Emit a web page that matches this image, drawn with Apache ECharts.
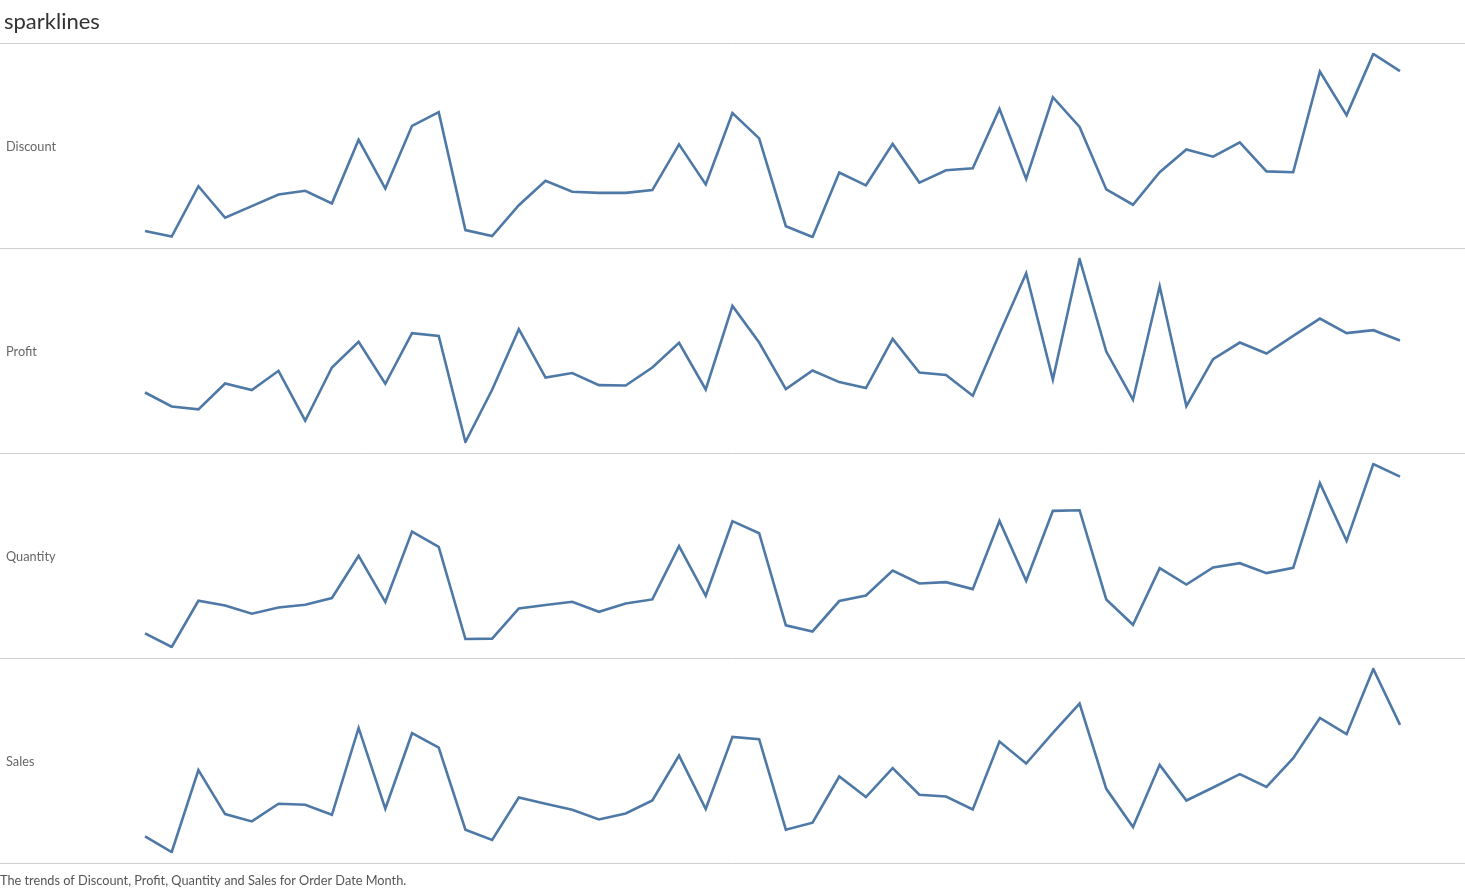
<!DOCTYPE html>
<html>
<head>
<meta charset="utf-8">
<script src="https://cdn.jsdelivr.net/npm/echarts@6/dist/echarts.min.js"></script>
<style>html,body{margin:0;padding:0;background:#fff;}#chart{width:1465px;height:889px;}</style>
</head>
<body>
<div id="chart"></div>
<script>
// 48 months of Order Date
const months = [];
for (let y = 2014; y <= 2017; y++) for (let m = 1; m <= 12; m++) months.push(y + '-' + String(m).padStart(2, '0'));

const measureNames = ['Discount', 'Profit', 'Quantity', 'Sales'];

const discount = [12.6,10.2,32.2,18.4,23.5,28.6,30.2,24.7,52.5,31.2,58.6,64.6,
  13.0,10.4,23.9,34.6,29.8,29.3,29.3,30.5,50.5,33.0,64.2,53.1,
  14.7,10.0,38.2,32.6,50.7,33.8,39.2,40.0,66.0,35.4,71.1,58.1,
  30.8,24.1,38.3,48.3,45.1,51.4,38.7,38.3,82.3,63.3,90.0,82.5];

const profit = [2680,1080,740,3710,2960,5170,-560,5550,8490,3680,9490,9180,
  -3000,2990,9950,4400,4910,3530,3480,5550,8380,3030,12620,8410,
  3070,5200,3870,3190,8840,4970,4680,2300,9410,16360,4170,18000,
  7380,1850,14870,1120,6510,8410,7150,9180,11160,9490,9830,8640];

const quantity = [319,200,604,563,491,546,569,628,997,593,1209,1076,
  270,273,537,567,595,508,581,616,1082,648,1300,1195,
  389,336,602,650,869,755,767,706,1302,779,1390,1396,
  616,395,890,746,895,933,846,892,1632,1128,1800,1689];

const sales = [13700,4000,55000,27630,23030,34040,33420,27200,81300,30930,78010,69050,
  17870,11460,37960,34040,30310,24270,28010,36090,64080,30740,75710,74270,
  17870,22220,51020,38200,56240,39640,38580,30490,72780,59100,78190,96420,
  43370,19550,58290,36090,44180,52510,44610,62460,87520,77380,118000,83170];

const seriesData = [discount, profit, quantity, sales];

const chart = echarts.init(document.getElementById('chart'), null, {renderer: 'canvas'});

const panelTop = 43, panelH = 205, pad = 11;
const fontFam = 'Lato, "Open Sans", sans-serif';
const grids = [], xAxes = [], yAxes = [], series = [], graphics = [];

measureNames.forEach((name, i) => {
  const top = panelTop + i * panelH;
  grids.push({left: 145, right: 65, top: top + pad, height: panelH - 2 * pad, containLabel: false});
  xAxes.push({type: 'category', gridIndex: i, data: months, boundaryGap: false, show: false});
  yAxes.push({type: 'value', gridIndex: i, min: 'dataMin', max: 'dataMax', show: false, scale: true});
  series.push({
    type: 'line', name: name, xAxisIndex: i, yAxisIndex: i, data: seriesData[i],
    showSymbol: false, symbol: 'none', smooth: false,
    lineStyle: {color: '#4e79a7', width: 2.6, join: 'miter'}, animation: false
  });
  graphics.push({
    type: 'text', left: 6, top: top + panelH / 2 - 5,
    style: {text: name, fontSize: 12.75, fontFamily: fontFam, fill: '#666666'}
  });
});

for (let k = 0; k <= 4; k++) {
  const y = panelTop + k * panelH + 0.5;
  graphics.push({type: 'line', shape: {x1: 0, y1: y, x2: 1465, y2: y}, style: {stroke: '#cfcfcf', lineWidth: 1}, z: -1});
}

graphics.push({
  type: 'text', left: 4, top: 11,
  style: {text: 'sparklines', fontSize: 22, fontFamily: fontFam, fill: '#333333'}
});
graphics.push({
  type: 'text', left: 0, top: 874,
  style: {text: 'The trends of Discount, Profit, Quantity and Sales for Order Date Month.', fontSize: 12.75, fontFamily: fontFam, fill: '#555555'}
});

chart.setOption({
  animation: false,
  backgroundColor: '#ffffff',
  grid: grids, xAxis: xAxes, yAxis: yAxes, series: series,
  graphic: graphics,
  tooltip: {show: false}
});
</script>
</body>
</html>
